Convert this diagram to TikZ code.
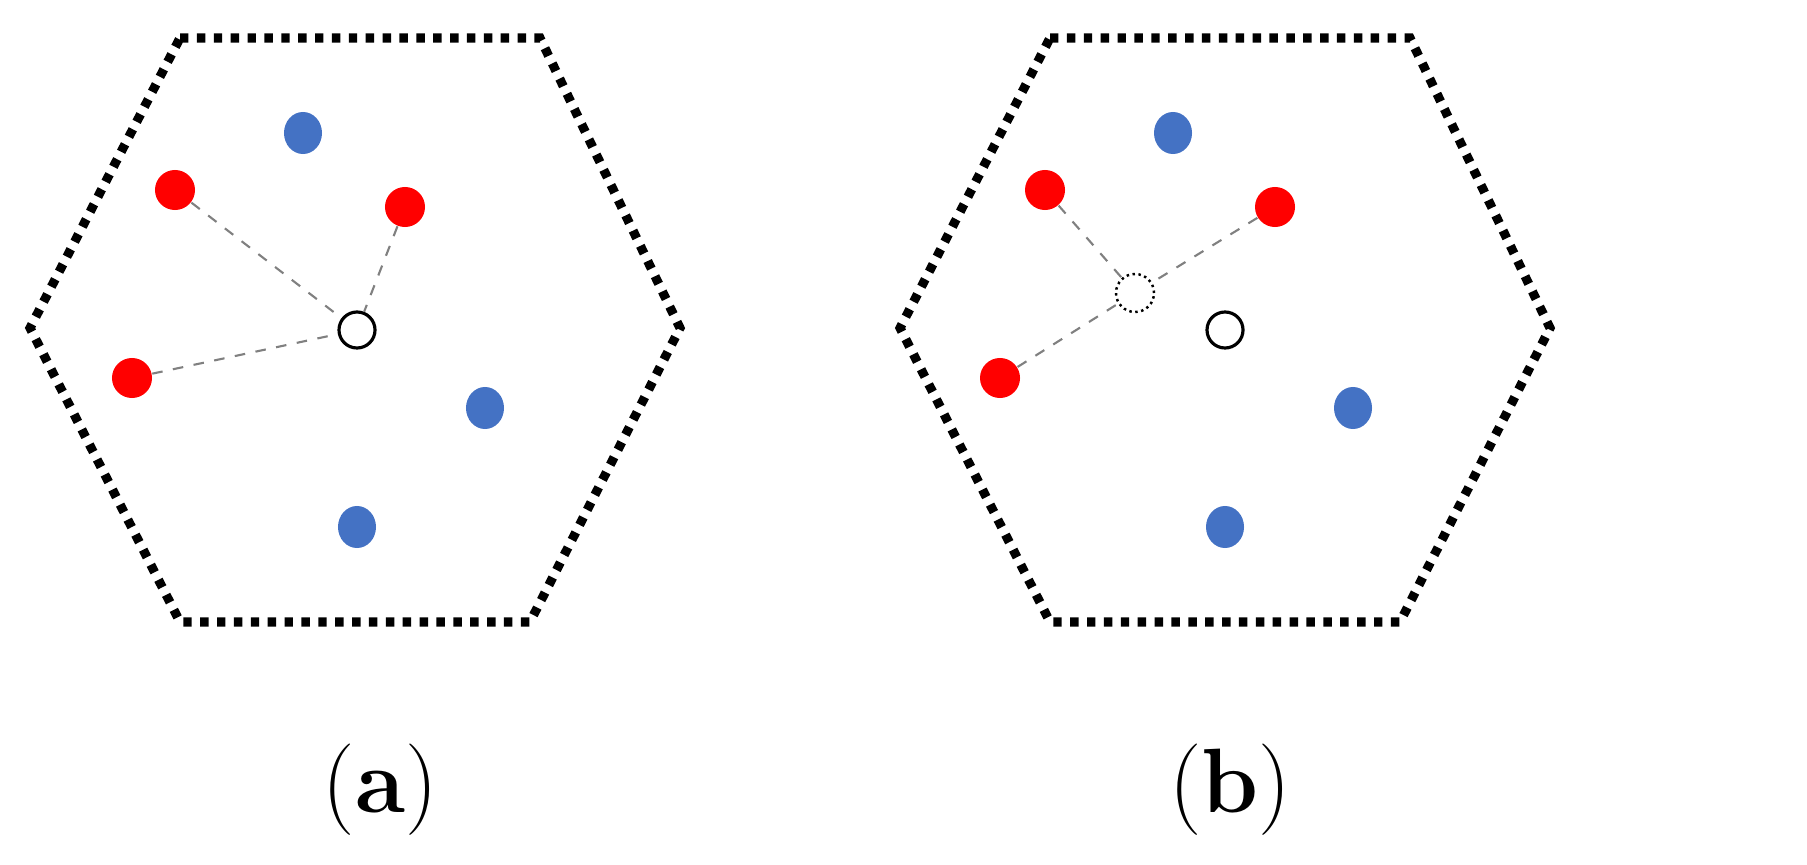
\documentclass[tikz,border=0pt]{standalone}
\usepackage{tikz}
\usetikzlibrary{shapes.geometric}
\definecolor{dotblue}{RGB}{68,114,196}
\tikzset{
  red dot/.style={circle, fill=red, minimum size=0.4cm, inner sep=0pt},
  blue dot/.style={ellipse, fill=dotblue, minimum width=0.38cm, minimum height=0.42cm, inner sep=0pt},
  query/.style={circle, draw=black, line width=0.9pt, fill=white, minimum size=0.36cm, inner sep=0pt},
  ghost/.style={circle, draw=black, densely dotted, line width=0.7pt, fill=white, minimum size=0.38cm, inner sep=0pt},
  hexa/.style={line width=2.6pt, dash pattern=on 2.4pt off 2.4pt},
  link/.style={draw=gray, dashed, line width=0.6pt}
}
\begin{document}
\begin{tikzpicture}[x=0.01cm, y=-0.01cm]
  \useasboundingbox (0,0) rectangle (1807,864);
  % panel (a)
  \draw[hexa] (180,38) -- (540,38) -- (680,328) -- (530,622) -- (180,622) -- (30,328) -- cycle;
  \node[blue dot] (a1) at (303,133) {};
  \node[red dot] (a2) at (175,190) {};
  \node[red dot] (a3) at (405,207) {};
  \node[red dot] (a4) at (132,378) {};
  \node[blue dot] (a5) at (485,408) {};
  \node[blue dot] (a6) at (357,527) {};
  \node[query] (aq) at (357,330) {};
  \draw[link] (a2) -- (aq) (a3) -- (aq) (a4) -- (aq);
  \node (la) at (380,790) {\fontsize{26}{31}\selectfont(\textbf{a})};
  % panel (b)
  \draw[hexa] (1050,38) -- (1410,38) -- (1550,328) -- (1400,622) -- (1050,622) -- (900,328) -- cycle;
  \node[blue dot] (b1) at (1173,133) {};
  \node[red dot] (b2) at (1045,190) {};
  \node[red dot] (b3) at (1275,207) {};
  \node[red dot] (b4) at (1000,378) {};
  \node[blue dot] (b5) at (1353,408) {};
  \node[blue dot] (b6) at (1225,527) {};
  \node[query] (bq) at (1225,330) {};
  \node[ghost] (bg) at (1135,293) {};
  \draw[link] (b2) -- (bg) (b3) -- (bg) (b4) -- (bg);
  \node (lb) at (1230,790) {\fontsize{26}{31}\selectfont(\textbf{b})};
\end{tikzpicture}
\end{document}
